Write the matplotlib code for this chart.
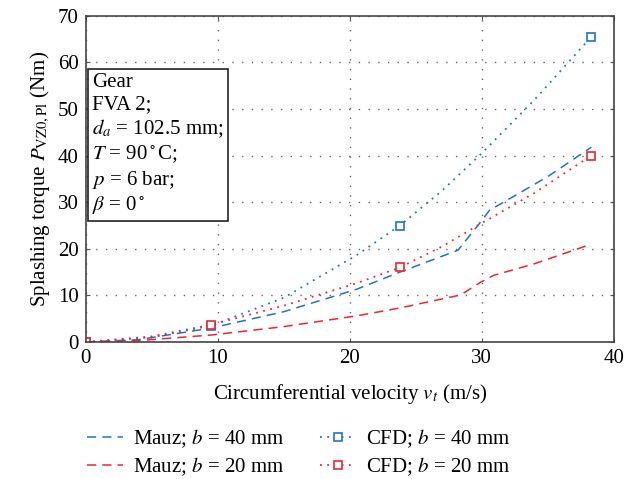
import matplotlib
matplotlib.use("Agg")
import matplotlib.pyplot as plt

plt.rcParams['font.family'] = ['Liberation Serif', 'DejaVu Serif']
plt.rcParams['mathtext.fontset'] = 'stix'

# Mauz, b = 40 mm
mauz40_v = [0, 4, 9.5, 15, 20.5, 23.8, 28.2, 29.7, 30.6, 31.9, 35, 38.3]
mauz40_t = [0, 0.5, 3.0, 6.5, 11.3, 15.0, 19.7, 25.0, 28.3, 30.4, 35.5, 41.8]

# Mauz, b = 20 mm
mauz20_v = [0, 4, 9.5, 15, 20.5, 23.8, 28.4, 29.9, 30.9, 34, 38.1]
mauz20_t = [0, 0.3, 1.5, 3.3, 5.6, 7.3, 10.1, 12.8, 14.3, 16.8, 20.8]

# CFD, b = 40 mm
cfd40_v = [0, 5, 9.5, 15, 20.5, 23.8, 27, 30, 34, 38.3]
cfd40_t = [0, 1.0, 3.5, 9.5, 18.6, 25.0, 32.5, 40.5, 52.0, 65.5]
cfd40_pv = [0, 9.5, 23.8, 38.3]
cfd40_pt = [0, 3.5, 25.0, 65.5]

# CFD, b = 20 mm
cfd20_v = [0, 5, 9.5, 15, 20.5, 23.8, 27, 30, 34, 38.3]
cfd20_t = [0, 1.2, 3.7, 7.8, 12.6, 16.0, 20.5, 25.5, 32.0, 40.0]
cfd20_pv = [0, 9.5, 23.8, 38.3]
cfd20_pt = [0, 3.7, 16.0, 40.0]

blue = '#1f74c0'
red = '#ee2530'
fs = 15

fig = plt.figure(figsize=(6.4, 4.79), dpi=100)
ax = fig.add_axes([0.134, 0.286, 0.825, 0.681])

m40, = ax.plot(mauz40_v, mauz40_t, color=blue, ls=(0, (6, 4)), lw=1.1)
m20, = ax.plot(mauz20_v, mauz20_t, color=red, ls=(0, (6, 4)), lw=1.1)
ax.plot(cfd40_v, cfd40_t, color=blue, ls=(0, (1, 3)), lw=1.3)
ax.plot(cfd20_v, cfd20_t, color=red, ls=(0, (1, 3)), lw=1.3)
ax.plot(cfd40_pv, cfd40_pt, ls='none', marker='s', ms=6, mfc='white', mec=blue, mew=1.2)
ax.plot(cfd20_pv, cfd20_pt, ls='none', marker='s', ms=6, mfc='white', mec=red, mew=1.2)

# legend proxies for CFD (dotted line with marker)
h40, = ax.plot([], [], color=blue, ls=(0, (1, 3)), lw=1.3, marker='s', ms=6,
               mfc='white', mec=blue, mew=1.2)
h20, = ax.plot([], [], color=red, ls=(0, (1, 3)), lw=1.3, marker='s', ms=6,
               mfc='white', mec=red, mew=1.2)

ax.set_xlim(0, 40)
ax.set_ylim(0, 70)
ax.set_xticks([0, 10, 20, 30, 40])
ax.set_yticks(range(0, 71, 10))
ax.tick_params(direction='in', labelsize=fs, top=True, right=True, length=3,
               color='#555555', pad=5)
ax.grid(True, ls=(0, (1, 6)), color='#666666', lw=1.0)
for s in ax.spines.values():
    s.set_color('#444444')
    s.set_linewidth(1.2)

ax.set_xlabel('Circumferential velocity $v_t$ (m/s)', fontsize=fs, labelpad=10)
ax.set_ylabel(r'Splashing torque $P_{\mathrm{VZ0,Pl}}$ (Nm)', fontsize=fs, labelpad=4)

info = ('Gear\nFVA 2;\n$d_a$ = 102.5 mm;\n$T$ = 90$^\\circ$C;\n'
        '$p$ = 6 bar;\n$\\beta$ = 0$^\\circ$')
ax.text(0.012, 0.825, info, transform=ax.transAxes, fontsize=fs, va='top', ha='left',
        linespacing=1.22,
        bbox=dict(boxstyle='square,pad=0.22', fc='white', ec='#222222', lw=1.2))

fig.legend(loc='upper left', bbox_to_anchor=(0.107, 0.146), ncol=2, frameon=False,
           fontsize=fs, handlelength=1.7, handletextpad=0.5, columnspacing=1.7,
           labelspacing=0.25,
           handles=[m40, m20, h40, h20],
           labels=['Mauz; $b$ = 40 mm', 'Mauz; $b$ = 20 mm',
                   'CFD; $b$ = 40 mm', 'CFD; $b$ = 20 mm'])

fig.savefig('out.png', dpi=100)
